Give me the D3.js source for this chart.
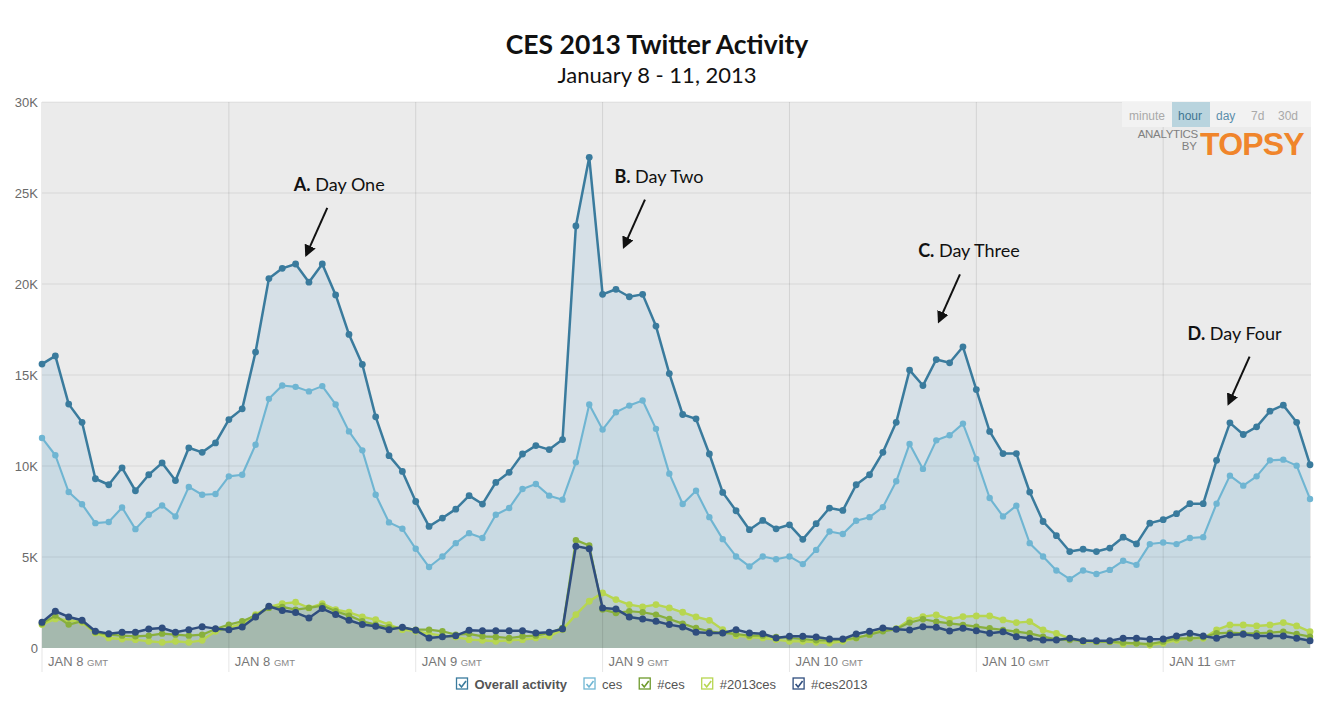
<!DOCTYPE html>
<html>
<head>
<meta charset="utf-8">
<script src="https://cdn.jsdelivr.net/npm/d3@7"></script>
<style>
  body { margin: 0; background: #fff; }
  svg { display: block; }
</style>
</head>
<body>
<script>
// hourly tweet counts, Jan 8 00:00 to Jan 11 23:00 GMT
const overall = [
  15600, 16050, 13400, 12400, 9300, 8970, 9900, 8640, 9520, 10170, 9200, 11000,
  10750, 11270, 12550, 13140, 16260, 20300, 20860, 21100, 20100, 21100, 19400, 17230,
  15580, 12700, 10570, 9700, 8050, 6680, 7140, 7630, 8370, 7910, 9100, 9650,
  10660, 11120, 10900, 11450, 23190, 26960, 19430, 19710, 19300, 19430, 17690, 15080,
  12830, 12590, 10660, 8550, 7540, 6500, 7010, 6550, 6770, 5970, 6830, 7690,
  7560, 8970, 9520, 10750, 12400, 15270, 14420, 15850, 15670, 16550, 14200, 11900,
  10680, 10680, 8570, 6950, 6170, 5300, 5430, 5300, 5490, 6090, 5720, 6860,
  7050, 7380, 7930, 7930, 10310, 12370, 11730, 12150, 13010, 13340, 12400, 10070
];
const ces = [
  11540, 10590, 8570, 7900, 6860, 6920, 7720, 6530, 7320, 7830, 7230, 8850,
  8420, 8460, 9430, 9520, 11170, 13690, 14420, 14350, 14100, 14390, 13380, 11900,
  10860, 8420, 6900, 6550, 5450, 4450, 5030, 5760, 6310, 6040, 7320, 7690,
  8740, 9010, 8370, 8150, 10200, 13380, 12000, 12950, 13320, 13600, 12040, 9580,
  7910, 8640, 7190, 5980, 5030, 4480, 5030, 4880, 5030, 4610, 5390, 6400,
  6260, 6990, 7190, 7740, 9160, 11210, 9840, 11410, 11690, 12330, 10390, 8240,
  7230, 7820, 5760, 5030, 4260, 3780, 4260, 4070, 4290, 4790, 4570, 5710,
  5800, 5710, 6040, 6090, 7930, 9470, 8920, 9430, 10310, 10350, 10020, 8190
];
const hashCes = [
  1340, 1780, 1285, 1468, 862, 734, 679, 642, 679, 789, 734, 679,
  734, 1046, 1285, 1468, 1780, 2202, 2257, 2110, 2202, 2330, 2018, 1780,
  1468, 1285, 1138, 1101, 1009, 1009, 918, 734, 780, 642, 606, 551,
  642, 679, 826, 1101, 5927, 5633, 2110, 1927, 2018, 1963, 1835, 1597,
  1340, 1101, 918, 826, 771, 679, 679, 606, 551, 495, 422, 422,
  459, 551, 734, 918, 1040, 1395, 1578, 1450, 1358, 1266, 1174, 1083,
  991, 899, 807, 624, 477, 440, 404, 349, 349, 294, 257, 220,
  349, 532, 532, 587, 807, 844, 807, 807, 844, 899, 771, 624
];
const hash2013ces = [
  1285, 1597, 1523, 1413, 826, 551, 495, 459, 367, 312, 367, 312,
  422, 918, 1101, 1340, 1835, 2257, 2440, 2514, 2202, 2440, 2110, 1963,
  1707, 1560, 1285, 1009, 918, 789, 679, 606, 459, 422, 367, 422,
  459, 551, 642, 1009, 1835, 2569, 3028, 2661, 2386, 2257, 2386, 2202,
  1963, 1707, 1523, 1009, 679, 606, 551, 459, 367, 367, 312, 275,
  367, 551, 734, 1009, 1060, 1541, 1725, 1817, 1578, 1725, 1762, 1762,
  1541, 1395, 1450, 991, 807, 532, 349, 349, 349, 220, 257, 165,
  257, 440, 532, 532, 991, 1266, 1266, 1211, 1266, 1395, 1211, 899
];
const hashCes2013 = [
  1413, 2018, 1707, 1523, 918, 789, 862, 862, 1046, 1101, 862, 1009,
  1174, 1064, 1009, 1156, 1707, 2294, 2055, 1945, 1652, 2165, 1835, 1523,
  1285, 1193, 1009, 1138, 973, 551, 624, 679, 973, 954, 954, 954,
  954, 826, 862, 1046, 5597, 5450, 2202, 2147, 1707, 1597, 1468, 1285,
  1156, 862, 826, 826, 1009, 826, 789, 551, 642, 642, 606, 495,
  495, 771, 918, 1101, 1030, 991, 1174, 1138, 936, 1083, 954, 807,
  899, 624, 532, 440, 440, 532, 404, 404, 404, 532, 532, 477,
  495, 661, 807, 661, 532, 716, 752, 661, 661, 661, 532, 404
];

const yTicks = [0, 5000, 10000, 15000, 20000, 25000, 30000];
const dayTicks = [0, 14, 28, 42, 56, 70, 84];
const dayLabels = ["JAN 8", "JAN 8", "JAN 9", "JAN 9", "JAN 10", "JAN 10", "JAN 11"];
const rangeButtons = ["minute", "hour", "day", "7d", "30d"];
const legendNames = ["Overall activity", "ces", "#ces", "#2013ces", "#ces2013"];

// arrow tips sit on the chart in data units (hour index, tweets)
const notes = [
  {key: "A.", label: " Day One", i: 19.8, v: 21600, dx: 33},
  {key: "B.", label: " Day Two", i: 43.6, v: 22050, dx: 35},
  {key: "C.", label: " Day Three", i: 67.2, v: 17950, dx: 30},
  {key: "D.", label: " Day Four", i: 88.9, v: 13430, dx: 6}
];

const W = 1322, H = 704;
const plot = {left: 42, right: 1311, top: 102, bottom: 648};

const svg = d3.select("body").append("svg")
    .attr("width", W)
    .attr("height", H);

const x = d3.scaleLinear().domain([0, overall.length - 1]).range([42, 1310]);
const y = d3.scaleLinear().domain([0, 30000]).range([plot.bottom, plot.top]);

// plot background
svg.append("rect")
    .attr("x", plot.left - 1).attr("y", plot.top)
    .attr("width", plot.right - plot.left + 1).attr("height", plot.bottom - plot.top)
    .attr("fill", "#ebebeb");

const series = [
  {values: overall, color: "#3a7b9d", fill: "#d6e0e7", r: 3.4, w: 2.5},
  {values: ces, color: "#6fb5d2", fill: "#c9dae3", r: 3.2, w: 2.1},
  {values: hash2013ces, color: "#b7d650", fill: "rgba(125,150,95,0.16)", r: 3.4, w: 2.4},
  {values: hashCes, color: "#88b03c", fill: "rgba(125,150,95,0.16)", r: 3.2, w: 2.2},
  {values: hashCes2013, color: "#2f4d7e", fill: "rgba(90,110,100,0.14)", r: 3.5, w: 2.5}
];

const area = d3.area()
    .x((d, i) => x(i))
    .y0(y(0))
    .y1(d => y(d));

const line = d3.line()
    .x((d, i) => x(i))
    .y(d => y(d));

// fills first
svg.append("g").selectAll("path")
    .data(series)
    .join("path")
    .attr("d", d => area(d.values))
    .attr("fill", d => d.fill);

// grid on top of the fills
svg.append("g").selectAll("line")
    .data(yTicks.slice(1))
    .join("line")
    .attr("x1", plot.left).attr("x2", plot.right)
    .attr("y1", d => y(d)).attr("y2", d => y(d))
    .attr("stroke", "#000").attr("stroke-opacity", 0.08);

svg.append("g").selectAll("line")
    .data(dayTicks)
    .join("line")
    .attr("x1", d => x(d)).attr("x2", d => x(d))
    .attr("y1", d => d === 0 ? plot.bottom : plot.top)
    .attr("y2", 672)
    .attr("stroke", "#000").attr("stroke-opacity", 0.1);

// lines and dots
series.forEach(s => {
  svg.append("path")
      .datum(s.values)
      .attr("d", line)
      .attr("fill", "none")
      .attr("stroke", s.color)
      .attr("stroke-width", s.w)
      .attr("stroke-linejoin", "round");
  svg.append("g").selectAll("circle")
      .data(s.values)
      .join("circle")
      .attr("cx", (d, i) => x(i))
      .attr("cy", d => y(d))
      .attr("r", s.r)
      .attr("fill", s.color);
});

// y axis labels
svg.append("g").selectAll("text")
    .data(yTicks)
    .join("text")
    .attr("x", 38)
    .attr("y", d => y(d) + 5)
    .attr("text-anchor", "end")
    .attr("font-family", "Liberation Sans, Arial, sans-serif")
    .attr("font-size", 13)
    .attr("fill", "#6a6a6a")
    .text(d => d === 0 ? "0" : (d / 1000) + "K");

// x axis labels
const xl = svg.append("g").selectAll("text")
    .data(dayTicks)
    .join("text")
    .attr("x", d => x(d) + 6)
    .attr("y", 666)
    .attr("font-family", "Liberation Sans, Arial, sans-serif")
    .attr("font-size", 13)
    .attr("fill", "#777");
xl.append("tspan").text((d, i) => dayLabels[i] + " ");
xl.append("tspan").attr("font-size", 9.5).attr("fill", "#888").text("GMT");

// time range buttons + Topsy logo
svg.append("rect")
    .attr("x", 1122).attr("y", plot.top)
    .attr("width", plot.right - 1122).attr("height", 25)
    .attr("fill", "#f2f2f2");
const btnX = [1129, 1178, 1216, 1251, 1278];
svg.append("rect")
    .attr("x", 1172).attr("y", plot.top)
    .attr("width", 38).attr("height", 25)
    .attr("fill", "#b9d4de");
svg.append("g").selectAll("text")
    .data(rangeButtons)
    .join("text")
    .attr("x", (d, i) => btnX[i])
    .attr("y", 120)
    .attr("font-family", "Liberation Sans, Arial, sans-serif")
    .attr("font-size", 12)
    .attr("fill", d => d === "hour" ? "#3f7592" : d === "day" ? "#5b8eab" : "#a9a9a9")
    .text(d => d);

svg.append("text")
    .attr("x", 1198).attr("y", 138)
    .attr("text-anchor", "end")
    .attr("font-family", "Liberation Sans, Arial, sans-serif")
    .attr("font-size", 11.5).attr("fill", "#808080")
    .attr("letter-spacing", -0.3)
    .text("ANALYTICS");
svg.append("text")
    .attr("x", 1197).attr("y", 150)
    .attr("text-anchor", "end")
    .attr("font-family", "Liberation Sans, Arial, sans-serif")
    .attr("font-size", 11.5).attr("fill", "#808080")
    .text("BY");
svg.append("text")
    .attr("x", 1200).attr("y", 155)
    .attr("font-family", "Liberation Sans, Arial, sans-serif")
    .attr("font-size", 32).attr("font-weight", "bold")
    .attr("letter-spacing", -0.8)
    .attr("fill", "#f0852b")
    .text("TOPSY");

// title
svg.append("text")
    .attr("x", 657).attr("y", 54)
    .attr("text-anchor", "middle")
    .attr("font-family", "Lato, sans-serif")
    .attr("font-size", 26.5).attr("font-weight", "bold")
    .attr("fill", "#111")
    .text("CES 2013 Twitter Activity");
svg.append("text")
    .attr("x", 657).attr("y", 83)
    .attr("text-anchor", "middle")
    .attr("font-family", "Lato, sans-serif")
    .attr("font-size", 22)
    .attr("fill", "#111")
    .text("January 8 - 11, 2013");

// annotations
svg.append("defs").append("marker")
    .attr("id", "head")
    .attr("viewBox", "0 0 10 10")
    .attr("refX", 8).attr("refY", 5)
    .attr("markerWidth", 6).attr("markerHeight", 6)
    .attr("orient", "auto")
    .append("path")
    .attr("d", "M0,0L10,5L0,10z")
    .attr("fill", "#111");

notes.forEach(n => {
  const tx = x(n.i), ty = y(n.v);
  svg.append("line")
      .attr("x1", tx + 21).attr("y1", ty - 47)
      .attr("x2", tx).attr("y2", ty)
      .attr("stroke", "#111").attr("stroke-width", 2)
      .attr("marker-end", "url(#head)");
  const t = svg.append("text")
      .attr("x", tx + n.dx).attr("y", ty - 64)
      .attr("text-anchor", "middle")
      .attr("font-family", "Lato, sans-serif")
      .attr("font-size", 18)
      .attr("fill", "#111");
  t.append("tspan").attr("font-weight", "bold").text(n.key);
  t.append("tspan").text(n.label);
});

// legend
const legendColors = ["#3a7b9d", "#70b6d3", "#6e9a2c", "#b7d650", "#2f4d7e"];
const lg = svg.append("g");
let lx = 0;
legendNames.forEach((name, i) => {
  const g = lg.append("g").attr("transform", `translate(${lx},0)`);
  g.append("rect")
      .attr("x", 0).attr("y", -6).attr("width", 11).attr("height", 11)
      .attr("fill", "#fff").attr("stroke", legendColors[i]).attr("stroke-width", 1.3);
  g.append("path")
      .attr("d", "M2.5,0L5,3L9.5,-3")
      .attr("fill", "none").attr("stroke", legendColors[i]).attr("stroke-width", 1.6);
  const t = g.append("text")
      .attr("x", 18).attr("y", 4.5)
      .attr("font-family", "Liberation Sans, Arial, sans-serif")
      .attr("font-size", 13)
      .attr("font-weight", i === 0 ? "bold" : "normal")
      .attr("fill", "#555")
      .text(name);
  lx += 18 + t.node().getComputedTextLength() + 17;
});
lg.attr("transform", `translate(${662 - (lx - 17) / 2},684)`);
</script>
</body>
</html>
